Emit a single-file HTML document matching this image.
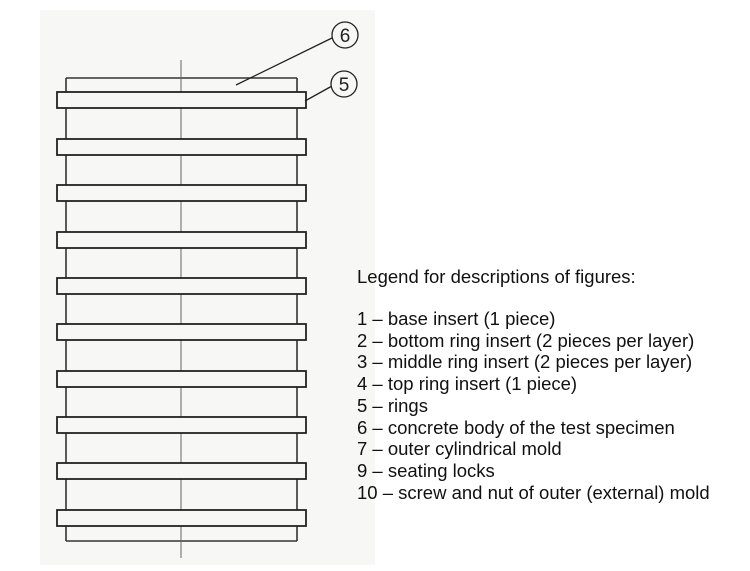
<!DOCTYPE html>
<html><head><style>
html,body{margin:0;padding:0;background:#fff;}
body{width:750px;height:571px;overflow:hidden;position:relative;font-family:"Liberation Sans",sans-serif;}
.leg{position:absolute;left:357px;font-size:18.5px;color:#111;line-height:21.7px;white-space:pre;}
</style></head><body>
<svg width="750" height="571" style="position:absolute;left:0;top:0">
<rect x="40" y="10" width="335" height="555" fill="#f7f7f6"/>
<g stroke="#333" stroke-width="1.6" fill="none">
<line x1="66" y1="78" x2="66" y2="541"/>
<line x1="297" y1="78" x2="297" y2="541"/>
<line x1="66" y1="78" x2="297" y2="78"/>
<line x1="66" y1="541" x2="297" y2="541"/>
</g>
<line x1="181" y1="60" x2="181" y2="558" stroke="#666" stroke-width="1"/>
<g stroke="#222" stroke-width="1.8" fill="#f7f7f6">
<rect x="57" y="92" width="249" height="16"/>
<rect x="57" y="139" width="249" height="16"/>
<rect x="57" y="185" width="249" height="16"/>
<rect x="57" y="232" width="249" height="16"/>
<rect x="57" y="278" width="249" height="16"/>
<rect x="57" y="324" width="249" height="16"/>
<rect x="57" y="371" width="249" height="16"/>
<rect x="57" y="417" width="249" height="16"/>
<rect x="57" y="463" width="249" height="16"/>
<rect x="57" y="510" width="249" height="16"/>
</g>
<g stroke="#222" stroke-width="1.3" fill="none">
<line x1="236" y1="85" x2="332" y2="38"/>
<line x1="305" y1="101" x2="332" y2="86"/>
<circle cx="345" cy="35" r="13" fill="#f7f7f6"/>
<circle cx="344" cy="84" r="13" fill="#f7f7f6"/>
</g>
<text x="345" y="42" font-size="19" text-anchor="middle" font-family="Liberation Sans" fill="#222">6</text>
<text x="344" y="91" font-size="19" text-anchor="middle" font-family="Liberation Sans" fill="#222">5</text>
</svg>
<div class="leg" style="top:266px">Legend for descriptions of figures:</div>
<div class="leg" style="top:308px">1 – base insert (1 piece)
2 – bottom ring insert (2 pieces per layer)
3 – middle ring insert (2 pieces per layer)
4 – top ring insert (1 piece)
5 – rings
6 – concrete body of the test specimen
7 – outer cylindrical mold
9 – seating locks
10 – screw and nut of outer (external) mold</div>
</body></html>
